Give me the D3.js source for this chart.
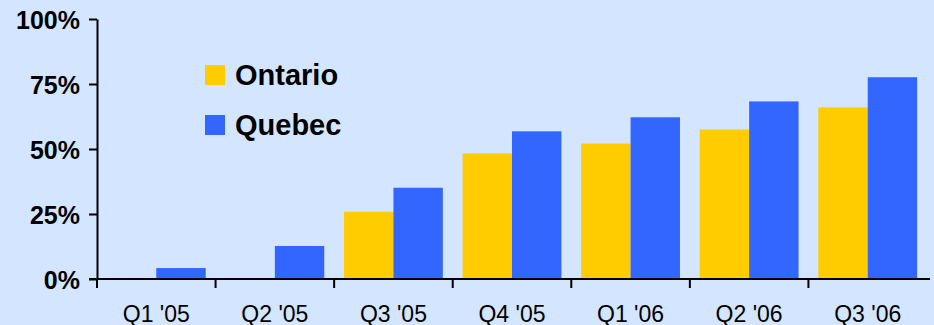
<!DOCTYPE html>
<html>
<head>
<meta charset="utf-8">
<script src="https://cdn.jsdelivr.net/npm/d3@7"></script>
<style>
  html, body { margin: 0; padding: 0; background: #d4e5ff; }
  svg { display: block; }
  .y-axis text { font-family: "Liberation Sans", Arial, sans-serif; font-weight: bold; font-size: 25px; fill: #000; }
  .x-label { font-family: "Liberation Sans", Arial, sans-serif; font-size: 23px; fill: #000; }
  .legend text { font-family: "Liberation Sans", Arial, sans-serif; font-weight: bold; font-size: 29px; fill: #000; }
</style>
</head>
<body>
<div id="chart"></div>
<script>
const quarters = ["Q1 '05", "Q2 '05", "Q3 '05", "Q4 '05", "Q1 '06", "Q2 '06", "Q3 '06"];
const series = ["Ontario", "Quebec"];
const ontario = [0, 0, 25.9, 48.3, 52.1, 57.5, 66.0];
const quebec = [4.2, 12.7, 35.1, 56.8, 62.2, 68.3, 77.6];
const yTicks = [0, 25, 50, 75, 100];
const colors = ["#ffcc00", "#3366ff"];

let width = 934,
    height = 325,
    margin = ({ top: 19, right: 4, bottom: 47, left: 97 });

const svg = d3.select("#chart")
    .append("svg")
    .attr("width", width)
    .attr("height", height);

svg.append("rect")
    .attr("width", width)
    .attr("height", height)
    .attr("fill", "#d4e5ff");

const data = quarters.map((q, i) => ({ q, values: [ontario[i], quebec[i]] }));

let x0 = d3.scaleBand()
    .domain(quarters)
    .range([margin.left, 927]);

let x1 = d3.scaleBand()
    .domain(series)
    .range([0, x0.bandwidth()])
    .paddingOuter(0.2);

let y = d3.scaleLinear()
    .domain([0, 100])
    .range([height - margin.bottom + 1, margin.top]);

// bars
svg.append("g")
  .selectAll("g")
  .data(data)
  .join("g")
    .attr("transform", d => `translate(${x0(d.q)},0)`)
  .selectAll("rect")
  .data(d => d.values.map((v, i) => ({ key: series[i], v, i })))
  .join("rect")
    .attr("x", d => x1(d.key))
    .attr("y", d => y(d.v))
    .attr("width", x1.bandwidth())
    .attr("height", d => y(0) - y(d.v))
    .attr("fill", d => colors[d.i]);

// x axis line and ticks
const xg = svg.append("g").attr("class", "x-axis");
xg.append("line")
    .attr("x1", margin.left - 8).attr("x2", 930)
    .attr("y1", y(0)).attr("y2", y(0))
    .attr("stroke", "#000").attr("stroke-width", 2);
xg.selectAll(".tick")
  .data(quarters)
  .join("line")
    .attr("x1", d => x0(d)).attr("x2", d => x0(d))
    .attr("y1", y(0)).attr("y2", y(0) + 9)
    .attr("stroke", "#000").attr("stroke-width", 2);
xg.selectAll("text")
  .data(quarters)
  .join("text")
    .attr("class", "x-label")
    .attr("x", d => x0(d) + x0.bandwidth() / 2)
    .attr("y", y(0) + 43)
    .attr("text-anchor", "middle")
    .text(d => d);

// y axis
svg.append("g")
    .attr("class", "y-axis")
    .attr("transform", `translate(${margin.left},0)`)
    .call(d3.axisLeft(y).tickValues(yTicks).tickFormat(d => d + "%").tickSize(8).tickPadding(9).tickSizeOuter(0))
    .call(g => g.selectAll("line, path").attr("stroke", "#000").attr("stroke-width", 2))
    .call(g => g.selectAll("text").attr("dy", "0.36em"));

// legend
const legend = svg.append("g").attr("class", "legend");
series.forEach((s, i) => {
  legend.append("rect")
      .attr("x", 205).attr("y", 65 + i * 50)
      .attr("width", 20).attr("height", 20)
      .attr("fill", colors[i]);
  legend.append("text")
      .attr("x", 235).attr("y", 85 + i * 50)
      .text(s);
});
</script>
</body>
</html>
